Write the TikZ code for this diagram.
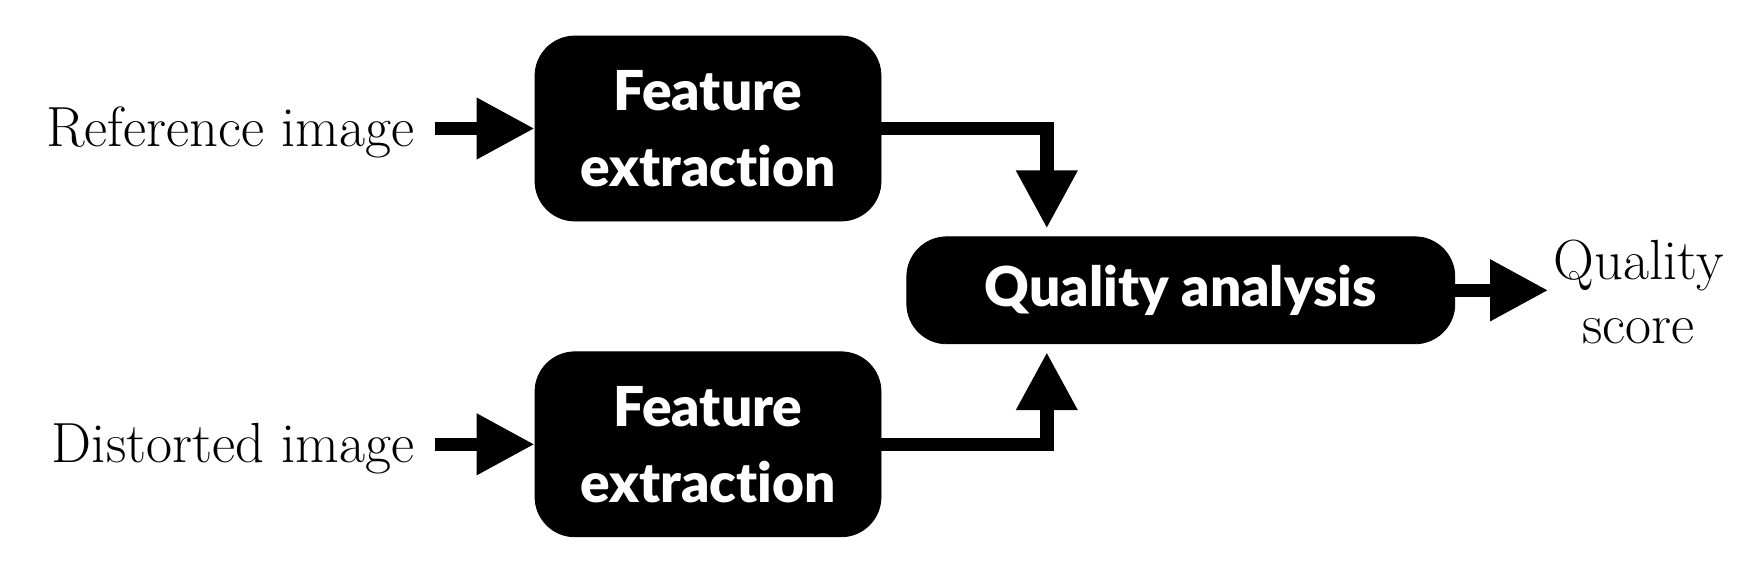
\documentclass[tikz,border=0pt]{standalone}
\usepackage{fontspec}
\newfontfamily\boxfont{Lato Black}[Ligatures=NoCommon]
\usetikzlibrary{positioning}
\usetikzlibrary{arrows.meta}
\tikzset{proc node/.style={shape=rectangle, rounded corners=20pt,
    draw=black, fill=black, text=white, align=center,
    font=\boxfont\fontsize{27.5}{38}\selectfont,
    minimum width=173pt, minimum height=92.5pt, inner sep=0pt}}
\tikzset{qa node/.style={proc node, minimum width=274pt, minimum height=53.5pt}}
\tikzset{text node/.style={inner sep=0pt, align=center,
    font=\fontsize{28.3}{32}\selectfont}}
\tikzset{flow/.style={line width=6.75pt, -{Triangle[length=29pt,width=29pt]}}}

\begin{document}
\begin{tikzpicture}
    \useasboundingbox (0,0) rectangle (880pt,-290pt);

    \node[proc node] (feat1) at (354pt,-64.25pt) {Feature\\extraction};
    \node[proc node] (feat2) [below = 65pt of feat1] {Feature\\extraction};

    \node[qa node] (qa) [below right = 7.5pt and 12.5pt of feat1] {Quality analysis};

    \node[text node] (ref) [left = 60pt of feat1, yshift=-2pt] {Reference image};
    \node[text node] (dist) [left = 60pt of feat2, yshift=-2pt] {Distorted image};
    \node[text node] (score) [right = 49pt of qa, yshift=-1pt] {Quality\\score};

    \draw[flow, shorten <=10pt] (feat1.west -| ref.east) -- (feat1.west);
    \draw[flow, shorten <=10pt] (feat2.west -| dist.east) -- (feat2.west);

    \draw[flow, shorten >=4pt] (feat1.east) -| ([xshift=-67pt]qa.north);
    \draw[flow, shorten >=4pt] (feat2.east) -| ([xshift=-67pt]qa.south);

    \draw[flow, shorten >=2.5pt] (qa.east) -- (qa.east -| score.west);
\end{tikzpicture}
\end{document}
